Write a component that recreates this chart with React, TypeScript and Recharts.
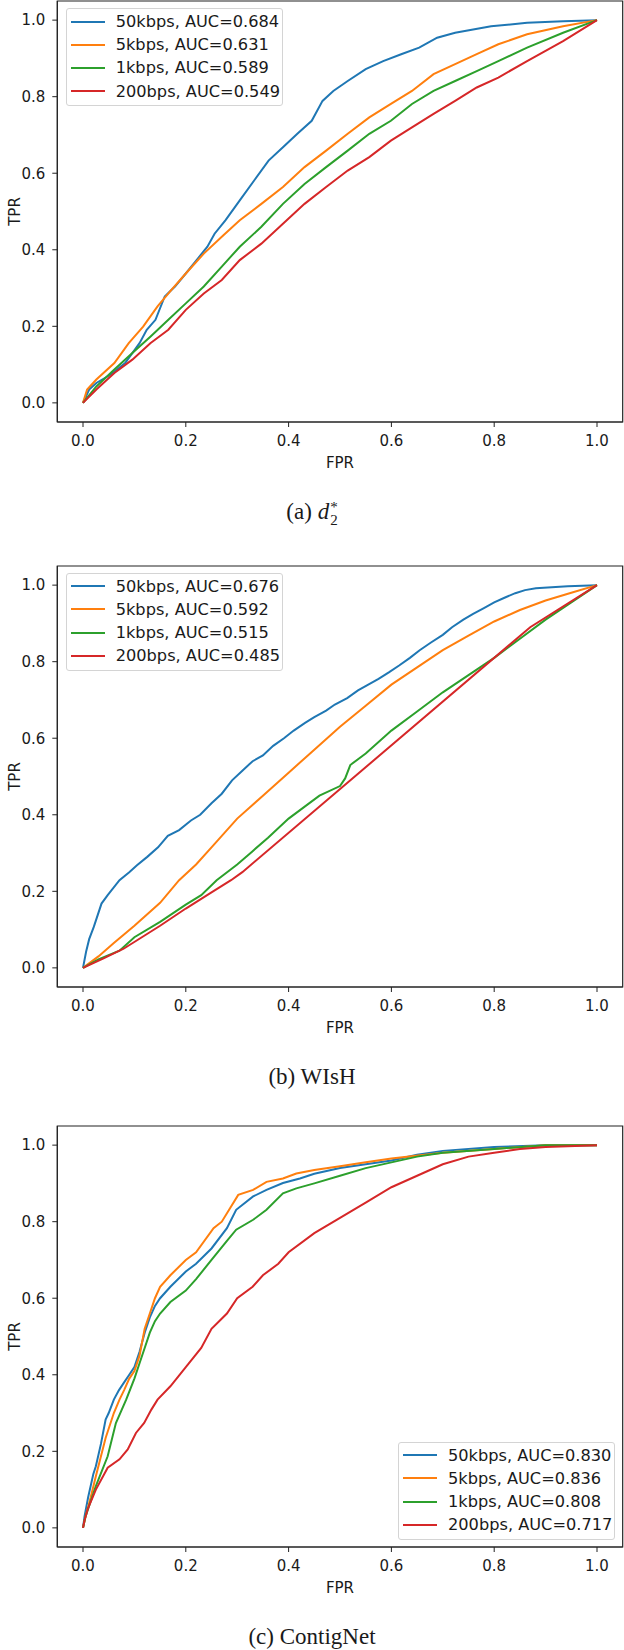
import React from 'react';
import { LineChart, Line, XAxis, YAxis, ReferenceArea } from 'recharts';

// ROC curves, [FPR, TPR] pairs

// (a) d2*
const d2_50k: [number, number][] = [[0,0],[.012,.035],[.026,.052],[.054,.074],[.082,.104],[.11,.156],[.124,.191],[.141,.217],[.159,.278],[.179,.304],[.2,.338],[.221,.373],[.242,.408],[.256,.442],[.277,.477],[.305,.529],[.333,.581],[.361,.633],[.389,.668],[.417,.703],[.445,.737],[.466,.789],[.487,.815],[.515,.841],[.55,.872],[.584,.893],[.619,.911],[.654,.928],[.689,.954],[.724,.967],[.794,.984],[.864,.993],[.934,.997],[1,1]];
const d2_5k: [number, number][] = [[0,0],[.008,.035],[.026,.061],[.061,.104],[.089,.156],[.117,.199],[.145,.252],[.172,.295],[.2,.338],[.235,.39],[.27,.434],[.305,.477],[.347,.52],[.389,.564],[.431,.616],[.473,.659],[.515,.703],[.557,.746],[.599,.781],[.64,.815],[.682,.859],[.724,.885],[.766,.911],[.808,.937],[.864,.963],[.934,.984],[1,1]];
const d2_1k: [number, number][] = [[0,0],[.026,.043],[.061,.087],[.096,.13],[.131,.173],[.166,.217],[.2,.26],[.235,.304],[.27,.356],[.305,.408],[.347,.46],[.389,.52],[.431,.572],[.473,.616],[.515,.659],[.557,.703],[.599,.737],[.64,.781],[.682,.815],[.724,.841],[.766,.867],[.808,.893],[.864,.928],[.934,.967],[1,1]];
const d2_200: [number, number][] = [[0,0],[.026,.035],[.061,.078],[.096,.113],[.131,.156],[.166,.191],[.2,.243],[.235,.286],[.27,.321],[.305,.373],[.347,.416],[.389,.468],[.431,.52],[.473,.564],[.515,.607],[.557,.642],[.599,.685],[.64,.72],[.682,.755],[.724,.789],[.766,.824],[.808,.85],[.864,.893],[.934,.945],[1,1]];

// (b) WIsH
const wish_50k: [number, number][] = [[0,0],[.006,.042],[.012,.075],[.021,.107],[.036,.168],[.048,.19],[.071,.229],[.09,.25],[.105,.268],[.125,.29],[.146,.315],[.165,.345],[.187,.36],[.21,.385],[.228,.4],[.25,.43],[.27,.455],[.29,.49],[.31,.515],[.33,.54],[.35,.555],[.37,.58],[.391,.6],[.41,.62],[.432,.64],[.45,.655],[.473,.672],[.49,.688],[.514,.705],[.535,.725],[.555,.74],[.575,.755],[.595,.772],[.615,.79],[.636,.81],[.655,.83],[.677,.85],[.7,.87],[.718,.89],[.74,.91],[.759,.925],[.78,.94],[.8,.955],[.82,.967],[.841,.979],[.86,.987],[.881,.992],[.943,.997],[1,1]];
const wish_5k: [number, number][] = [[0,0],[.03,.03],[.06,.065],[.1,.11],[.15,.17],[.187,.229],[.22,.27],[.25,.315],[.3,.39],[.35,.45],[.4,.51],[.45,.57],[.5,.63],[.55,.685],[.6,.74],[.65,.785],[.7,.83],[.75,.868],[.8,.905],[.85,.935],[.9,.96],[.95,.98],[1,1]];
const wish_1k: [number, number][] = [[0,0],[.03,.022],[.071,.045],[.1,.08],[.15,.12],[.2,.165],[.23,.19],[.26,.229],[.3,.27],[.33,.305],[.36,.34],[.4,.39],[.43,.42],[.46,.45],[.5,.475],[.51,.495],[.52,.53],[.55,.56],[.6,.62],[.65,.67],[.7,.72],[.75,.765],[.8,.81],[.85,.86],[.9,.91],[.95,.955],[1,1]];
const wish_200: [number, number][] = [[0,0],[.04,.025],[.079,.05],[.15,.11],[.2,.155],[.25,.197],[.288,.229],[.31,.25],[.87,.89],[1,1]];

// (c) ContigNet
const cn_50k: [number, number][] = [[0,0],[.003,.03],[.01,.08],[.02,.14],[.025,.161],[.035,.22],[.044,.283],[.05,.3],[.06,.335],[.07,.36],[.08,.38],[.09,.4],[.1,.42],[.11,.46],[.12,.51],[.13,.55],[.14,.58],[.15,.6],[.17,.63],[.2,.67],[.22,.69],[.25,.73],[.28,.783],[.298,.831],[.331,.866],[.357,.883],[.389,.901],[.422,.913],[.45,.925],[.5,.94],[.55,.95],[.6,.96],[.65,.975],[.7,.985],[.8,.995],[.9,1],[1,1]];
const cn_5k: [number, number][] = [[0,0],[.005,.03],[.015,.08],[.025,.135],[.044,.235],[.06,.3],[.071,.335],[.08,.36],[.09,.39],[.1,.41],[.11,.45],[.12,.52],[.13,.56],[.14,.6],[.15,.63],[.17,.66],[.2,.7],[.22,.72],[.254,.783],[.27,.8],[.302,.87],[.331,.883],[.357,.904],[.389,.913],[.415,.926],[.45,.935],[.5,.945],[.55,.955],[.6,.965],[.7,.98],[.8,.99],[.9,1],[1,1]];
const cn_1k: [number, number][] = [[0,0],[.005,.03],[.015,.07],[.025,.109],[.048,.187],[.064,.274],[.084,.335],[.1,.39],[.11,.43],[.12,.47],[.13,.51],[.14,.54],[.15,.56],[.17,.59],[.2,.62],[.22,.65],[.25,.7],[.28,.75],[.298,.779],[.331,.805],[.357,.831],[.389,.874],[.415,.887],[.45,.9],[.5,.92],[.55,.94],[.6,.955],[.65,.97],[.7,.98],[.8,.99],[.9,1],[1,1]];
const cn_200: [number, number][] = [[0,0],[.003,.02],[.009,.048],[.025,.1],[.048,.157],[.071,.179],[.087,.205],[.103,.248],[.119,.274],[.133,.309],[.145,.335],[.17,.37],[.2,.42],[.23,.47],[.25,.52],[.28,.56],[.3,.6],[.33,.63],[.35,.66],[.38,.69],[.4,.72],[.45,.77],[.5,.81],[.55,.85],[.6,.89],[.65,.92],[.7,.95],[.75,.97],[.8,.98],[.85,.99],[.9,.995],[1,1]];

const seriesNames = ['50kbps', '5kbps', '1kbps', '200bps'];
const seriesColors = ['#1f77b4', '#ff7f0e', '#2ca02c', '#d62728'];
const aucD2 = ['0.684', '0.631', '0.589', '0.549'];
const aucWish = ['0.676', '0.592', '0.515', '0.485'];
const aucCn = ['0.830', '0.836', '0.808', '0.717'];
const ticks = [0, 0.2, 0.4, 0.6, 0.8, 1.0];

const FONT = '"DejaVu Sans", sans-serif';
const TEXT = '#1a1a1a';

const toRows = (pts: [number, number][]) => pts.map(([fpr, tpr]) => ({ fpr, tpr }));

interface PanelProps {
  frameTop: number;
  curves: [number, number][][];
  aucs: string[];
  legendLeft: number;
  legendTop: number;
  caption: React.ReactNode;
}

function RocPanel({ frameTop, curves, aucs, legendLeft, legendTop, caption }: PanelProps) {
  const plotH = 421;
  const top = frameTop - 10;
  return (
    <>
      <div style={{ position: 'absolute', left: 0, top }}>
        <LineChart width={624} height={10 + plotH + 52} margin={{ top: 10, right: 1.3, left: 0.3, bottom: 0 }}>
          <XAxis
            dataKey="fpr"
            type="number"
            domain={[-0.05, 1.05]}
            ticks={ticks}
            allowDataOverflow
            tickFormatter={(v: number) => v.toFixed(1)}
            tick={{ fontSize: 15, fill: TEXT, fontFamily: FONT }}
            tickSize={5}
            tickMargin={8}
            height={52}
            stroke="#222"
            label={{ value: 'FPR', position: 'insideBottom', offset: 6, fontSize: 15, fill: TEXT, fontFamily: FONT }}
          />
          <YAxis
            type="number"
            domain={[-0.05, 1.05]}
            ticks={ticks}
            allowDataOverflow
            tickFormatter={(v: number) => v.toFixed(1)}
            tick={{ fontSize: 15, fill: TEXT, fontFamily: FONT }}
            tickSize={5}
            tickMargin={7}
            width={57}
            stroke="#222"
            label={{ value: 'TPR', angle: -90, position: 'insideLeft', offset: 14, fontSize: 15, fill: TEXT, fontFamily: FONT, style: { textAnchor: 'middle' } }}
          />
          <ReferenceArea x1={-0.05} x2={1.05} y1={-0.05} y2={1.05} fill="none" fillOpacity={0} stroke="#222" strokeWidth={1.2} />
          {curves.map((c, i) => (
            <Line
              key={seriesNames[i]}
              data={toRows(c)}
              dataKey="tpr"
              type="linear"
              stroke={seriesColors[i]}
              strokeWidth={2}
              dot={false}
              isAnimationActive={false}
            />
          ))}
        </LineChart>
      </div>
      <div
        style={{
          position: 'absolute',
          left: legendLeft,
          top: legendTop,
          width: 217,
          height: 98,
          boxSizing: 'border-box',
          border: '1px solid #d4d4d4',
          borderRadius: 3,
          background: 'rgba(255,255,255,0.8)',
          padding: '1px 0 0 4px',
          fontFamily: FONT,
          fontSize: 16.2,
          color: TEXT,
        }}
      >
        {seriesNames.map((n, i) => (
          <div key={n} style={{ height: 23.2, display: 'flex', alignItems: 'center', whiteSpace: 'nowrap' }}>
            <span style={{ display: 'inline-block', width: 34, height: 2, background: seriesColors[i], marginRight: 11 }} />
            <span>{`${n}, AUC=${aucs[i]}`}</span>
          </div>
        ))}
      </div>
      <div
        style={{
          position: 'absolute',
          left: 0,
          width: 624,
          top: frameTop + plotH + 89.5 - 14,
          height: 28,
          lineHeight: '28px',
          textAlign: 'center',
          fontFamily: '"Liberation Serif", serif',
          fontSize: 23,
          color: TEXT,
        }}
      >
        {caption}
      </div>
    </>
  );
}

const d2Caption = (
  <span>
    (a){' '}
    <i>d</i>
    <span style={{ display: 'inline-flex', flexDirection: 'column', verticalAlign: 'middle', fontSize: 15, lineHeight: '13px', marginLeft: 1 }}>
      <span>*</span>
      <span>2</span>
    </span>
  </span>
);

export default function App() {
  return (
    <div style={{ position: 'absolute', left: 0, top: 0, width: 624, height: 1650, background: '#fff', overflow: 'hidden' }}>
      <RocPanel frameTop={1.4} curves={[d2_50k, d2_5k, d2_1k, d2_200]} aucs={aucD2} legendLeft={65.7} legendTop={8} caption={d2Caption} />
      <RocPanel frameTop={566} curves={[wish_50k, wish_5k, wish_1k, wish_200]} aucs={aucWish} legendLeft={65.7} legendTop={572.7} caption={<span>(b) WIsH</span>} />
      <RocPanel frameTop={1126.4} curves={[cn_50k, cn_5k, cn_1k, cn_200]} aucs={aucCn} legendLeft={398} legendTop={1441.7} caption={<span>(c) ContigNet</span>} />
    </div>
  );
}
